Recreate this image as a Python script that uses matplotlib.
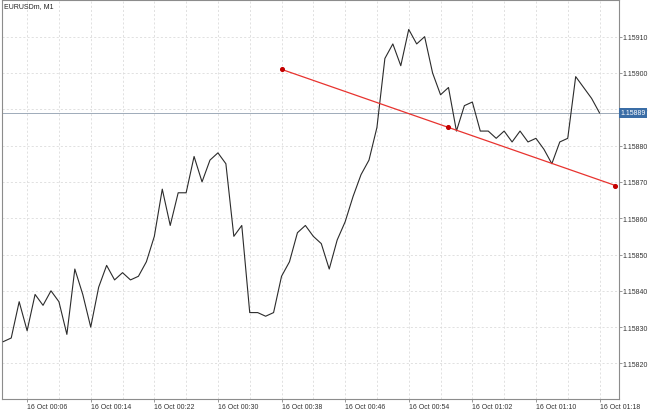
import matplotlib
matplotlib.use("Agg")
import matplotlib.pyplot as plt
import matplotlib.transforms as mtransforms
import numpy as np

symbol_title = "EURUSDm, M1"
date_prefix = "16 Oct"
start_minute = 3  # first bar at 00:03
closes = [
    1.15826, 1.15827, 1.15837, 1.15829, 1.15839, 1.15836, 1.15840, 1.15837,
    1.15828, 1.15846, 1.15839, 1.15830, 1.15841, 1.15847, 1.15843, 1.15845,
    1.15843, 1.15844, 1.15848, 1.15855, 1.15868, 1.15858, 1.15867, 1.15867,
    1.15877, 1.15870, 1.15876, 1.15878, 1.15875, 1.15855, 1.15858, 1.15834,
    1.15834, 1.15833, 1.15834, 1.15844, 1.15848, 1.15856, 1.15858, 1.15855,
    1.15853, 1.15846, 1.15854, 1.15859, 1.15866, 1.15872, 1.15876, 1.15885,
    1.15904, 1.15908, 1.15902, 1.15912, 1.15908, 1.15910, 1.15900, 1.15894,
    1.15896, 1.15884, 1.15891, 1.15892, 1.15884, 1.15884, 1.15882, 1.15884,
    1.15881, 1.15884, 1.15881, 1.15882, 1.15879, 1.15875, 1.15881, 1.15882,
    1.15899, 1.15896, 1.15893, 1.15889,
]
minutes = np.arange(start_minute, start_minute + len(closes))

trend_minutes = [38, 59, 80]
trend_prices = [1.15901, 1.15885, 1.15869]
current_price = 1.15889

xtick_minutes = [6, 14, 22, 30, 38, 46, 54, 62, 70, 78]
xgrid_minor = [10, 18, 26, 34, 42, 50, 58, 66, 74]
ytick_values = [1.15820, 1.15830, 1.15840, 1.15850, 1.15860, 1.15870,
                1.15880, 1.15890, 1.15900, 1.15910]


def fmt_time(m):
    return f"{date_prefix} {m // 60:02d}:{m % 60:02d}"


FONT = "Liberation Sans"
FS = 5.0

fig = plt.figure(figsize=(6.5, 4.1), dpi=100)
ax = fig.add_axes([2 / 650, 10 / 410, 616.7 / 650, 399 / 410])

ax.plot(minutes, closes, color="#2b2b2b", lw=0.8, zorder=3)
ax.plot(trend_minutes, trend_prices, color="#e8332f", lw=0.9, zorder=4,
        clip_on=False)
ax.scatter(trend_minutes, trend_prices, s=7, color="#c40000", zorder=5,
           clip_on=False)
ax.axhline(current_price, color="#9eabb9", lw=0.7, zorder=2)

ax.set_xlim(2.84, 80.41)
ax.set_ylim(1.158102, 1.159201)

ax.set_xticks(xtick_minutes)
ax.set_xticklabels([fmt_time(m) for m in xtick_minutes], fontfamily=FONT,
                   fontsize=FS, color="#333333")
for lab in ax.get_xticklabels():
    lab.set_horizontalalignment("left")
ax.set_xticks(xgrid_minor, minor=True)

ax.yaxis.tick_right()
ax.set_yticks(ytick_values)
ax.set_yticklabels([f"{v:.5f}" for v in ytick_values], fontfamily=FONT,
                   fontsize=FS, color="#333333")

ax.tick_params(axis="both", which="major", length=2, width=0.6,
               color="#888888", pad=0.6)
ax.tick_params(axis="x", which="minor", length=0)

ax.grid(True, which="both", color="#dcdcdc", linestyle=(0, (2.5, 2.5)),
        lw=0.6, zorder=0)

for sp in ax.spines.values():
    sp.set_color("#8c8c8c")
    sp.set_linewidth(0.8)

trans = mtransforms.blended_transform_factory(ax.transAxes, ax.transData)
ax.text(1.0025, current_price, f"{current_price:.5f}", transform=trans,
        ha="left", va="center", fontfamily=FONT, fontsize=FS, color="white",
        zorder=10, clip_on=False,
        bbox=dict(facecolor="#3a6da6", edgecolor="none",
                  boxstyle="square,pad=0.2"))

fig.text(4 / 650, 1 - 3 / 410, symbol_title, ha="left", va="top",
         fontfamily=FONT, fontsize=FS, color="#222222")

fig.savefig("out.png", dpi=100, facecolor="white")
